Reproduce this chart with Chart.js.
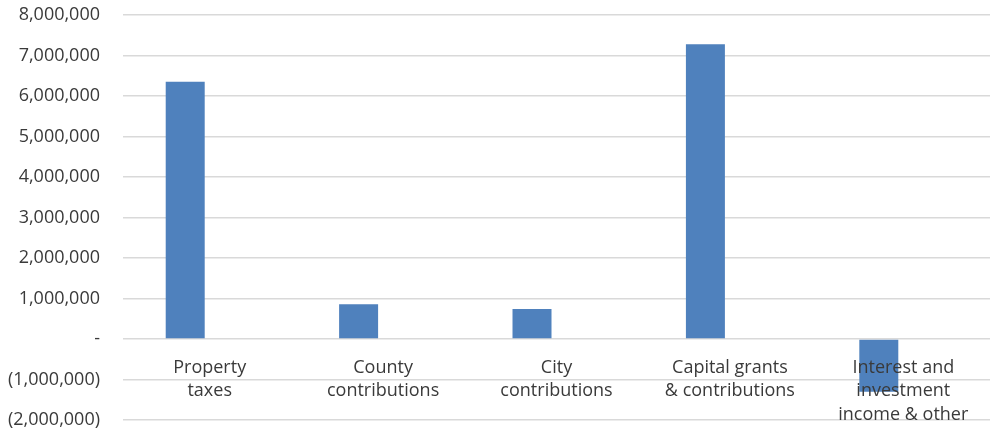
<!DOCTYPE html>
<html>
<head>
<meta charset="utf-8">
<script src="https://cdn.jsdelivr.net/npm/chart.js@4"></script>
<style>
  html, body { margin: 0; padding: 0; background: #ffffff; }
  #wrap { width: 995px; height: 432px; }
</style>
</head>
<body>
<div id="wrap"><canvas id="revenueChart"></canvas></div>
<script>
const categories = [
  ["Property", "taxes"],
  ["County", "contributions"],
  ["City", "contributions"],
  ["Capital grants", "& contributions"],
  ["Interest and", "investment", "income & other"],
];
const revenueValues = [6350000, 860000, 740000, 7280000, -1300000];
// second series in the source workbook is empty, it only takes up the slot beside each bar
const emptySeries = [null, null, null, null, null];

const yMin = -2000000;
const yMax = 8000000;
const yStep = 1000000;

// accounting style: commas, zero as a dash, negatives in brackets
function accounting(v) {
  if (v === 0) return "-";
  const s = Math.abs(v).toLocaleString("en-US");
  return v < 0 ? "(" + s + ")" : s;
}

const textColor = "#3a3a3a";
const font = { family: "'Open Sans', sans-serif", size: 18, lineHeight: 1.3 };

new Chart("revenueChart", {
  type: "bar",
  data: {
    labels: categories,
    datasets: [
      {
        data: revenueValues,
        backgroundColor: "#4f81bd",
        barPercentage: 0.796,
        categoryPercentage: 0.565,
      },
      {
        data: emptySeries,
        backgroundColor: "#c0504d",
        barPercentage: 0.796,
        categoryPercentage: 0.565,
      },
    ],
  },
  options: {
    responsive: true,
    maintainAspectRatio: false,
    animation: false,
    layout: { padding: { top: 0, right: 5, bottom: 0, left: 0 } },
    plugins: {
      legend: { display: false },
      tooltip: { enabled: false },
    },
    scales: {
      x: {
        // category labels hang under the zero line, not the bottom of the plot
        position: { y: 0 },
        grid: { display: false },
        border: { display: false },
        ticks: {
          z: 1,
          color: textColor,
          font: font,
          padding: 9,
          autoSkip: false,
          maxRotation: 0,
        },
      },
      y: {
        min: yMin,
        max: yMax,
        // tick padding would otherwise also be added above and below the plot
        afterFit: (scale) => {
          scale.width = 123;
          scale.paddingTop = 15;
          scale.paddingBottom = 12;
        },
        grid: { color: "#d9d9d9", lineWidth: 1.5, drawTicks: false },
        border: { display: false },
        ticks: {
          stepSize: yStep,
          color: textColor,
          font: font,
          padding: 23,
          callback: (v) => accounting(v),
        },
      },
    },
  },
});
</script>
</body>
</html>
